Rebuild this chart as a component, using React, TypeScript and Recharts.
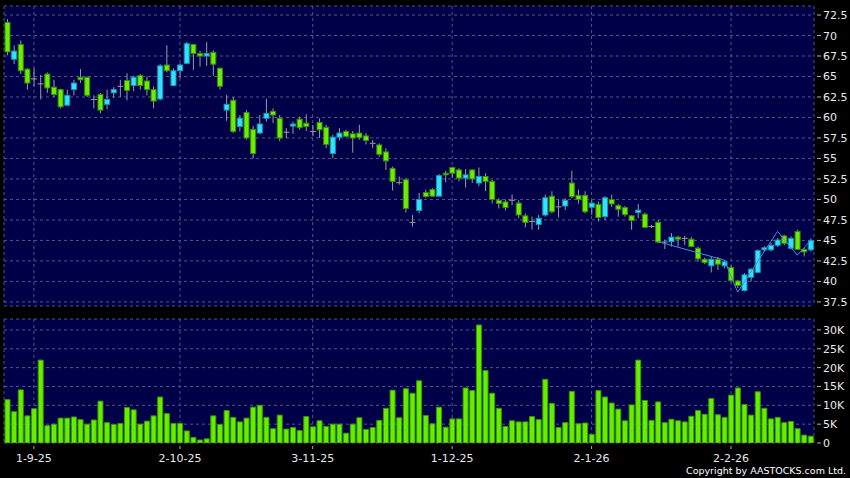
import React from 'react';
import { ComposedChart, Bar, Line, XAxis, YAxis, CartesianGrid } from 'recharts';

// daily OHLC
const openPx = [
  71.6, 67.1, 68.9, 65.9, 64.7, 64.1, 65.3, 63.7, 63.4, 61.5, 63.4, 64.9, 64.9, 62.2, 62.8, 61.6, 63.0, 63.8, 64.5, 63.9,
  65.1, 64.45, 63.4, 62.25, 66.4, 63.9, 65.7, 66.6, 68.9, 67.8, 67.5, 67.95, 66.0, 60.9, 62.1, 58.9, 60.6, 58.55, 58.1, 59.9,
  60.75, 59.9, 58.2, 58.95, 59.8, 59.3, 58.3, 59.4, 58.8, 55.6, 57.6, 58.3, 58.0, 58.1, 57.75, 56.85, 56.65, 55.8, 53.8, 52.05,
  52.4, 47.2, 48.65, 50.85, 51.2, 50.4, 53.2, 53.9, 53.6, 52.6, 53.6, 52.0, 52.8, 52.2, 49.9, 49.7, 49.9, 49.55, 48.0, 47.3,
  46.95, 48.1, 50.4, 49.1, 49.2, 52.0, 50.5, 50.5, 49.05, 49.4, 47.9, 50.0, 49.25, 49.0, 48.0, 48.4, 48.2, 46.7, 47.2, 44.8,
  44.85, 45.4, 45.25, 45.15, 44.05, 42.7, 41.9, 42.7, 41.9, 41.7, 40.05, 38.9, 40.5, 41.1, 43.85, 43.85, 44.4, 45.55, 44.05, 46.1,
  43.9, 43.85,
];
const highPx = [
  72.0, 68.8, 69.4, 66.0, 66.0, 65.2, 65.5, 64.6, 63.5, 63.4, 64.6, 65.9, 65.0, 62.7, 63.0, 63.4, 63.7, 64.6, 65.4, 65.1,
  65.3, 65.0, 63.8, 66.5, 68.8, 66.0, 66.6, 69.2, 69.0, 68.15, 69.2, 68.2, 66.1, 62.75, 62.5, 60.3, 60.9, 59.0, 60.3, 62.3,
  61.1, 60.3, 58.7, 59.5, 60.1, 60.4, 59.1, 59.9, 59.1, 57.9, 58.7, 58.5, 58.35, 59.1, 58.1, 57.25, 56.85, 56.25, 54.0, 52.8,
  52.6, 48.1, 50.8, 51.2, 51.4, 53.1, 53.5, 54.0, 53.8, 53.7, 53.7, 53.9, 53.2, 52.4, 50.15, 50.0, 50.6, 49.9, 48.3, 47.9,
  48.1, 50.6, 51.0, 50.0, 50.15, 53.5, 51.2, 51.0, 49.9, 49.75, 50.4, 50.6, 49.45, 49.2, 48.1, 49.45, 48.4, 46.9, 47.5, 45.1,
  45.9, 45.55, 45.55, 45.4, 44.25, 42.9, 43.0, 43.0, 42.6, 41.9, 40.2, 41.0, 41.6, 43.9, 44.3, 44.7, 45.3, 45.7, 45.5, 46.3,
  44.05, 45.25,
];
const lowPx = [
  67.6, 66.5, 65.3, 63.4, 63.8, 62.2, 63.0, 62.5, 61.1, 61.4, 62.7, 64.2, 62.5, 61.1, 60.5, 61.0, 62.4, 62.5, 62.1, 63.2,
  63.4, 62.7, 61.1, 62.1, 65.5, 63.8, 64.8, 66.5, 65.8, 66.2, 66.3, 65.1, 63.4, 59.6, 58.1, 58.3, 57.3, 55.0, 58.0, 59.5,
  59.3, 57.1, 57.5, 58.0, 58.5, 58.35, 57.7, 57.5, 56.25, 55.0, 57.2, 57.6, 55.7, 57.3, 56.7, 56.25, 55.2, 53.6, 51.1, 51.8,
  48.4, 46.7, 48.3, 50.2, 50.3, 50.4, 52.1, 52.6, 52.2, 51.45, 52.0, 51.6, 51.0, 49.5, 48.9, 48.65, 49.3, 47.7, 46.6, 46.3,
  46.3, 47.9, 48.3, 47.8, 48.7, 50.15, 49.5, 48.3, 48.1, 47.3, 47.5, 49.1, 47.9, 47.9, 46.3, 47.7, 46.5, 46.5, 44.65, 43.95,
  44.25, 44.25, 44.45, 44.2, 42.4, 42.1, 41.1, 41.4, 41.6, 40.0, 39.2, 38.75, 40.0, 41.0, 43.6, 43.65, 44.2, 44.4, 43.9, 43.85,
  43.05, 43.65,
];
const closePx = [
  68.0, 68.1, 65.7, 64.2, 64.7, 64.1, 63.6, 62.8, 61.3, 62.7, 64.2, 64.6, 62.7, 62.2, 60.9, 62.2, 63.4, 63.8, 63.3, 64.9,
  63.9, 63.4, 62.0, 66.3, 65.7, 65.7, 66.4, 69.0, 67.8, 67.5, 67.8, 66.5, 63.8, 61.6, 58.3, 59.9, 57.5, 55.6, 59.2, 60.5,
  60.3, 57.5, 58.2, 59.2, 58.75, 58.9, 58.3, 58.5, 56.7, 57.6, 58.1, 57.7, 57.5, 57.55, 57.2, 56.85, 55.5, 54.7, 52.2, 52.05,
  48.9, 47.2, 50.0, 50.35, 50.4, 52.9, 53.0, 53.2, 52.6, 53.0, 52.5, 52.8, 52.2, 50.0, 49.5, 49.0, 49.9, 48.1, 47.2, 47.3,
  47.7, 50.2, 48.5, 49.1, 49.9, 50.35, 50.0, 48.5, 49.55, 47.8, 50.2, 49.45, 48.8, 48.15, 47.45, 48.7, 46.6, 46.7, 44.8, 44.8,
  45.4, 45.15, 45.25, 44.25, 42.75, 42.3, 42.7, 42.1, 42.4, 40.1, 39.5, 40.8, 41.5, 43.75, 44.1, 44.4, 45.05, 44.65, 45.25, 43.9,
  43.6, 45.0,
];
// volume in thousands
const volumeK = [
  11.5, 8.3, 14.1, 7.2, 9.1, 22.0, 4.6, 5.0, 6.6, 6.6, 6.9, 6.2, 5.0, 6.1, 11.1, 5.4, 4.9, 5.2, 9.4, 8.8,
  5.0, 5.8, 7.2, 12.2, 7.8, 5.2, 5.2, 3.2, 1.5, 0.8, 1.1, 7.2, 4.9, 8.6, 6.8, 5.6, 6.6, 9.5, 10.0, 6.8,
  3.8, 7.4, 3.7, 4.1, 3.3, 7.0, 4.3, 5.9, 4.4, 5.0, 5.0, 2.6, 5.0, 6.7, 3.6, 4.1, 6.0, 9.2, 14.0, 6.7,
  14.4, 13.2, 16.5, 7.3, 5.1, 9.5, 4.2, 6.4, 6.4, 14.6, 13.9, 31.3, 19.2, 13.2, 9.2, 4.4, 5.9, 5.6, 5.6, 7.0,
  6.2, 16.9, 10.5, 4.1, 5.4, 13.7, 5.1, 5.3, 2.3, 13.9, 12.2, 10.6, 9.0, 5.9, 10.1, 22.0, 11.3, 6.0, 10.9, 5.4,
  6.3, 5.9, 5.6, 7.1, 8.6, 7.6, 11.8, 7.5, 6.8, 12.7, 14.6, 10.2, 7.4, 13.6, 9.2, 6.4, 6.8, 5.4, 5.7, 3.8,
  2.1, 1.8,
];
// thin blue overlay line (vertices only)
const trendIdx = [98, 108, 110, 116, 119, 121];
const trendVal = [44.85, 42.6, 38.7, 46.1, 43.2, 45.0];

const dateTicks = [4, 26, 46, 67, 88, 109];
const dateLabels = ['1-9-25', '2-10-25', '3-11-25', '1-12-25', '2-1-26', '2-2-26'];
const priceTicks = [37.5, 40, 42.5, 45, 47.5, 50, 52.5, 55, 57.5, 60, 62.5, 65, 67.5, 70, 72.5];
const volTicks = [0, 5000, 10000, 15000, 20000, 25000, 30000];

const rows = openPx.map((o, i) => {
  const t = trendIdx.indexOf(i);
  return {
    i,
    o,
    h: highPx[i],
    l: lowPx[i],
    c: closePx[i],
    range: [lowPx[i], highPx[i]],
    vol: volumeK[i] * 1000,
    trend: t >= 0 ? trendVal[t] : null,
  };
});

const BG = '#000048';
const GRID = '#55558a';
const TXT = '#e8e8e8';
const FONT = '"DejaVu Sans", Verdana, sans-serif';

const Candle = (props: any) => {
  const { x, y, width, height, payload } = props;
  if (!payload) return null;
  const { o, h, l, c } = payload;
  const top = Math.min(y, y + height);
  const hh = Math.abs(height);
  const span = h - l || 1;
  const py = (v: number) => top + ((h - v) / span) * hh;
  const cx = x + width / 2;
  const flat = Math.abs(c - o) < 0.001;
  const up = c > o;
  const bTop = py(Math.max(o, c));
  const bH = Math.max(1, py(Math.min(o, c)) - bTop);
  return (
    <g>
      <line x1={cx} x2={cx} y1={top} y2={top + hh} stroke="#9a9a9a" strokeWidth={1} />
      {flat ? (
        <line x1={x - 0.5} x2={x + width + 0.5} y1={py(o)} y2={py(o)} stroke="#9a9a9a" strokeWidth={1} />
      ) : (
        <rect
          x={x}
          y={bTop}
          width={width}
          height={bH}
          fill={up ? '#33e0ff' : '#6aee08'}
          stroke={up ? '#1696b0' : '#3b8c00'}
          strokeWidth={1}
        />
      )}
    </g>
  );
};

const PriceTick = ({ x, y, payload }: any) => (
  <g>
    <line x1={x + 3} x2={x + 7} y1={y} y2={y} stroke="#b0b0b0" />
    <text x={x + 9} y={y + 4} fill={TXT} fontSize={11} fontFamily={FONT}>
      {payload.value}
    </text>
  </g>
);

const VolTick = ({ x, y, payload }: any) => (
  <g>
    <line x1={x + 3} x2={x + 7} y1={y} y2={y} stroke="#b0b0b0" />
    <text x={x + 9} y={y + 4} fill={TXT} fontSize={11} fontFamily={FONT}>
      {payload.value === 0 ? '0' : payload.value / 1000 + 'K'}
    </text>
  </g>
);

const DateTick = ({ x, y, payload }: any) => {
  const k = dateTicks.indexOf(payload.value);
  return (
    <g>
      <line x1={x} x2={x} y1={y + 3} y2={y + 6} stroke="#b0b0b0" />
      <text x={x} y={y + 19} textAnchor="middle" fill={TXT} fontSize={11} fontFamily={FONT}>
        {dateLabels[k]}
      </text>
    </g>
  );
};

export default function App() {
  return (
    <div style={{ position: 'absolute', left: 0, top: 0, width: 850, height: 478, background: '#000' }}>
      <div style={{ position: 'absolute', left: 0, top: 0 }}>
        <ComposedChart width={850} height={310} data={rows} margin={{ top: 6, right: 0, bottom: 4, left: 4 }}>
          <CartesianGrid stroke={GRID} strokeDasharray="3 3" fill={BG} fillOpacity={1} />
          <XAxis dataKey="i" type="category" ticks={dateTicks} interval={0} hide />
          <YAxis
            orientation="right"
            width={36}
            domain={[37.0, 73.6]}
            ticks={priceTicks}
            interval={0}
            allowDataOverflow
            axisLine={false}
            tickLine={false}
            tickSize={0}
            tickMargin={0}
            tick={<PriceTick />}
          />
          <Bar dataKey="range" barSize={5} shape={<Candle />} isAnimationActive={false} />
          <Line
            dataKey="trend"
            type="linear"
            stroke="#3f90e0"
            strokeWidth={1}
            dot={false}
            activeDot={false}
            connectNulls
            isAnimationActive={false}
          />
        </ComposedChart>
      </div>
      <div style={{ position: 'absolute', left: 0, top: 310 }}>
        <ComposedChart width={850} height={168} data={rows} margin={{ top: 9, right: 0, bottom: 0, left: 4 }}>
          <CartesianGrid stroke={GRID} strokeDasharray="3 3" fill={BG} fillOpacity={1} />
          <XAxis
            dataKey="i"
            type="category"
            ticks={dateTicks}
            interval={0}
            height={35}
            axisLine={false}
            tickLine={false}
            tickSize={0}
            tickMargin={0}
            tick={<DateTick />}
          />
          <YAxis
            orientation="right"
            width={36}
            domain={[0, 32900]}
            ticks={volTicks}
            interval={0}
            allowDataOverflow
            axisLine={false}
            tickLine={false}
            tickSize={0}
            tickMargin={0}
            tick={<VolTick />}
          />
          <Bar dataKey="vol" barSize={5} fill="#66ee00" stroke="#3a9a00" strokeWidth={1} isAnimationActive={false} />
        </ComposedChart>
      </div>
      <div
        style={{
          position: 'absolute',
          right: 4,
          top: 465,
          color: '#fff',
          fontFamily: FONT,
          fontSize: 9.5,
          lineHeight: '12px',
          whiteSpace: 'nowrap',
        }}
      >
        Copyright by AASTOCKS.com Ltd.
      </div>
    </div>
  );
}
